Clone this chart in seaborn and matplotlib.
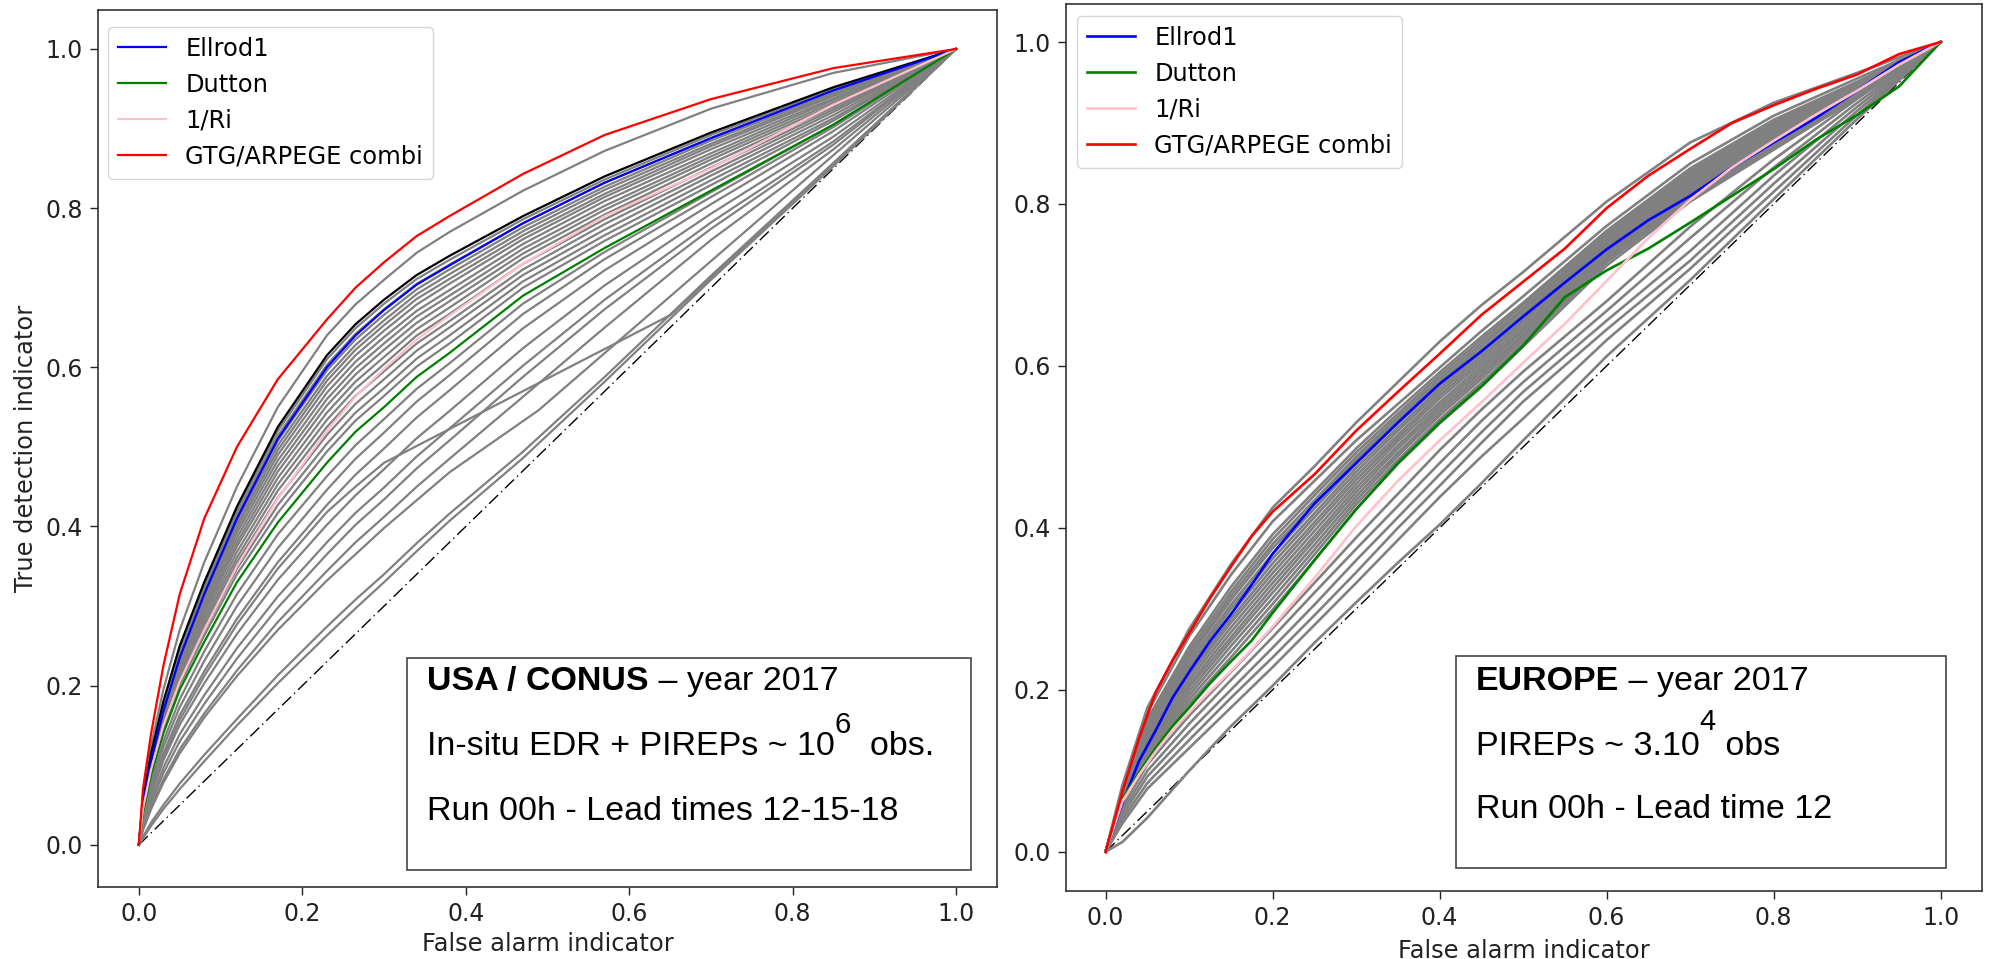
import numpy as np
import pandas as pd
import matplotlib
matplotlib.use("Agg")
import matplotlib.pyplot as plt
import seaborn as sns
from matplotlib.patches import Rectangle
from matplotlib.lines import Line2D

# ---------------- USA / CONUS panel (left) ----------------
USA_X = [0, 0.005, 0.015, 0.03, 0.05, 0.08, 0.12, 0.17, 0.23, 0.265, 0.3, 0.34, 0.38, 0.47, 0.57, 0.7, 0.85, 1.0]
USA_RED = [0, 0.07, 0.14, 0.225, 0.315, 0.41, 0.50, 0.585, 0.66, 0.700, 0.732, 0.765, 0.79, 0.843, 0.892, 0.937, 0.976, 1]
USA_BLACK = [0, 0.055, 0.115, 0.18, 0.25, 0.33, 0.425, 0.525, 0.615, 0.654, 0.685, 0.716, 0.74, 0.79, 0.84, 0.895, 0.952, 1]
USA_BLUE = [0, 0.05, 0.105, 0.168, 0.235, 0.315, 0.41, 0.51, 0.60, 0.640, 0.672, 0.704, 0.728, 0.781, 0.832, 0.888, 0.948, 1]
USA_PINK = [0, 0.045, 0.095, 0.15, 0.205, 0.27, 0.35, 0.435, 0.52, 0.563, 0.598, 0.635, 0.665, 0.73, 0.79, 0.85, 0.93, 1]
USA_GREEN = [0, 0.04, 0.088, 0.14, 0.195, 0.255, 0.33, 0.405, 0.48, 0.519, 0.55, 0.588, 0.618, 0.69, 0.75, 0.822, 0.905, 1]

USA_GREY = [
    [0, 0.062, 0.125, 0.195, 0.270, 0.355, 0.450, 0.550, 0.640, 0.679, 0.710, 0.744, 0.770, 0.822, 0.872, 0.925, 0.970, 1],
    [0, 0.054, 0.114, 0.178, 0.248, 0.327, 0.421, 0.520, 0.610, 0.649, 0.680, 0.711, 0.735, 0.786, 0.836, 0.892, 0.950, 1],
    [0, 0.054, 0.113, 0.176, 0.245, 0.323, 0.416, 0.514, 0.603, 0.642, 0.673, 0.705, 0.729, 0.781, 0.832, 0.888, 0.948, 1],
    [0, 0.053, 0.111, 0.174, 0.242, 0.320, 0.412, 0.508, 0.596, 0.635, 0.666, 0.698, 0.723, 0.776, 0.827, 0.885, 0.945, 1],
    [0, 0.052, 0.110, 0.172, 0.240, 0.316, 0.407, 0.502, 0.589, 0.628, 0.659, 0.692, 0.717, 0.771, 0.823, 0.881, 0.943, 1],
    [0, 0.051, 0.108, 0.170, 0.237, 0.312, 0.402, 0.496, 0.583, 0.622, 0.653, 0.686, 0.711, 0.766, 0.818, 0.878, 0.941, 1],
    [0, 0.051, 0.107, 0.168, 0.234, 0.308, 0.397, 0.490, 0.576, 0.615, 0.646, 0.679, 0.705, 0.761, 0.814, 0.874, 0.938, 1],
    [0, 0.050, 0.106, 0.166, 0.231, 0.304, 0.392, 0.483, 0.568, 0.607, 0.638, 0.671, 0.697, 0.755, 0.809, 0.869, 0.936, 1],
    [0, 0.049, 0.104, 0.164, 0.227, 0.299, 0.386, 0.476, 0.560, 0.599, 0.630, 0.664, 0.690, 0.749, 0.803, 0.865, 0.933, 1],
    [0, 0.048, 0.102, 0.161, 0.224, 0.295, 0.380, 0.469, 0.552, 0.591, 0.622, 0.656, 0.683, 0.743, 0.798, 0.861, 0.930, 1],
    [0, 0.047, 0.101, 0.159, 0.221, 0.290, 0.375, 0.461, 0.543, 0.582, 0.613, 0.648, 0.675, 0.737, 0.792, 0.856, 0.927, 1],
    [0, 0.046, 0.099, 0.156, 0.217, 0.285, 0.368, 0.453, 0.534, 0.573, 0.604, 0.640, 0.667, 0.730, 0.786, 0.851, 0.924, 1],
    [0, 0.045, 0.097, 0.153, 0.213, 0.280, 0.361, 0.445, 0.525, 0.564, 0.595, 0.630, 0.658, 0.723, 0.780, 0.846, 0.921, 1],
    [0, 0.044, 0.095, 0.150, 0.209, 0.275, 0.355, 0.436, 0.515, 0.554, 0.585, 0.621, 0.650, 0.716, 0.773, 0.841, 0.917, 1],
    [0, 0.043, 0.093, 0.147, 0.205, 0.269, 0.347, 0.427, 0.504, 0.543, 0.574, 0.611, 0.640, 0.708, 0.766, 0.835, 0.913, 1],
    [0, 0.042, 0.091, 0.144, 0.201, 0.263, 0.340, 0.417, 0.494, 0.533, 0.564, 0.601, 0.630, 0.700, 0.759, 0.829, 0.910, 1],
    [0, 0.035, 0.080, 0.130, 0.183, 0.243, 0.315, 0.390, 0.463, 0.502, 0.535, 0.573, 0.605, 0.680, 0.745, 0.820, 0.905, 1],
    [0, 0.032, 0.075, 0.123, 0.173, 0.231, 0.300, 0.373, 0.446, 0.485, 0.518, 0.557, 0.590, 0.667, 0.736, 0.814, 0.902, 1],
    [0, 0.030, 0.070, 0.115, 0.163, 0.218, 0.284, 0.355, 0.427, 0.465, 0.498, 0.537, 0.571, 0.649, 0.722, 0.805, 0.897, 1],
    [0, 0.027, 0.064, 0.106, 0.151, 0.203, 0.265, 0.333, 0.402, 0.439, 0.472, 0.511, 0.545, 0.624, 0.703, 0.793, 0.890, 1],
    [0, 0.025, 0.058, 0.097, 0.139, 0.188, 0.247, 0.312, 0.380, 0.417, 0.449, 0.488, 0.523, 0.602, 0.685, 0.782, 0.884, 1],
    [0, 0.022, 0.053, 0.090, 0.130, 0.177, 0.234, 0.298, 0.365, 0.402, 0.434, 0.473, 0.508, 0.588, 0.673, 0.774, 0.880, 1],
    [0, 0.020, 0.048, 0.082, 0.120, 0.165, 0.219, 0.280, 0.344, 0.380, 0.412, 0.450, 0.485, 0.563, 0.650, 0.760, 0.874, 1],
    [0, 0.010, 0.028, 0.050, 0.077, 0.113, 0.158, 0.213, 0.274, 0.308, 0.340, 0.379, 0.416, 0.494, 0.588, 0.715, 0.857, 1],
    [0, 0.008, 0.024, 0.045, 0.070, 0.105, 0.150, 0.203, 0.263, 0.297, 0.330, 0.369, 0.407, 0.486, 0.582, 0.710, 0.853, 1],
]
USA_KINK_X = [0, 0.005, 0.015, 0.03, 0.05, 0.08, 0.12, 0.17, 0.23, 0.265, 0.3, 0.651, 1.0]
USA_KINK_Y = [0, 0.028, 0.066, 0.11, 0.157, 0.212, 0.277, 0.347, 0.418, 0.450, 0.48, 0.666, 1.0]
USA_STEEP_X = [0, 0.005, 0.015, 0.03, 0.05, 0.08, 0.12, 0.17, 0.23, 0.3, 0.38, 0.489, 1.0]
USA_STEEP_Y = [0, 0.018, 0.045, 0.078, 0.115, 0.16, 0.212, 0.27, 0.332, 0.398, 0.468, 0.546, 1.0]

# ---------------- EUROPE panel (right) ----------------
EU_X_FINE = [0, 0.02, 0.04, 0.06, 0.08, 0.1, 0.125, 0.15, 0.175, 0.2, 0.25, 0.3, 0.35, 0.4,
             0.45, 0.5, 0.55, 0.6, 0.65, 0.7, 0.75, 0.8, 0.85, 0.9, 0.95, 1.0]
EU_RED = [0, 0.074, 0.14, 0.197, 0.236, 0.27, 0.313, 0.352, 0.39, 0.42, 0.466, 0.52, 0.568,
          0.615, 0.663, 0.704, 0.745, 0.795, 0.835, 0.868, 0.90, 0.922, 0.942, 0.96, 0.985, 1.0]
EU_BLUE = [0, 0.06, 0.112, 0.15, 0.19, 0.222, 0.26, 0.293, 0.33, 0.368, 0.43, 0.48, 0.53,
           0.578, 0.618, 0.661, 0.703, 0.744, 0.78, 0.81, 0.845, 0.876, 0.906, 0.94, 0.975, 1.0]
EU_GREEN = [0, 0.065, 0.098, 0.128, 0.155, 0.178, 0.208, 0.235, 0.261, 0.295, 0.36, 0.423, 0.48,
            0.53, 0.575, 0.625, 0.685, 0.718, 0.745, 0.777, 0.81, 0.843, 0.879, 0.91, 0.945, 1.0]
EU_PINK = [0, 0.062, 0.095, 0.124, 0.15, 0.172, 0.198, 0.223, 0.25, 0.278, 0.338, 0.402, 0.458,
           0.508, 0.555, 0.604, 0.652, 0.705, 0.758, 0.805, 0.845, 0.878, 0.91, 0.94, 0.972, 1.0]

EU_X_GREY = [0, 0.02, 0.05, 0.1, 0.15, 0.2, 0.25, 0.3, 0.35, 0.4, 0.45, 0.5, 0.6, 0.7, 0.8, 0.9, 1.0]
EU_GREY = [
    [0, 0.082, 0.178, 0.275, 0.355, 0.425, 0.476, 0.530, 0.580, 0.630, 0.675, 0.716, 0.803, 0.876, 0.925, 0.962, 1],
    [0, 0.078, 0.172, 0.266, 0.342, 0.408, 0.458, 0.508, 0.553, 0.598, 0.643, 0.686, 0.773, 0.850, 0.909, 0.955, 1],
    [0, 0.075, 0.164, 0.253, 0.327, 0.392, 0.445, 0.498, 0.546, 0.592, 0.636, 0.678, 0.767, 0.844, 0.904, 0.951, 1],
    [0, 0.074, 0.160, 0.248, 0.321, 0.386, 0.440, 0.493, 0.541, 0.588, 0.632, 0.675, 0.764, 0.841, 0.901, 0.950, 1],
    [0, 0.073, 0.158, 0.243, 0.316, 0.380, 0.434, 0.488, 0.537, 0.584, 0.628, 0.671, 0.761, 0.838, 0.899, 0.949, 1],
    [0, 0.072, 0.155, 0.240, 0.311, 0.375, 0.429, 0.484, 0.533, 0.580, 0.624, 0.668, 0.759, 0.836, 0.897, 0.948, 1],
    [0, 0.071, 0.152, 0.235, 0.305, 0.368, 0.424, 0.479, 0.529, 0.576, 0.620, 0.664, 0.756, 0.833, 0.895, 0.946, 1],
    [0, 0.070, 0.149, 0.230, 0.300, 0.362, 0.418, 0.474, 0.524, 0.572, 0.616, 0.661, 0.753, 0.831, 0.892, 0.945, 1],
    [0, 0.069, 0.146, 0.226, 0.294, 0.356, 0.413, 0.469, 0.520, 0.568, 0.612, 0.657, 0.751, 0.828, 0.890, 0.944, 1],
    [0, 0.068, 0.143, 0.221, 0.288, 0.350, 0.407, 0.464, 0.515, 0.564, 0.608, 0.654, 0.748, 0.825, 0.887, 0.942, 1],
    [0, 0.068, 0.140, 0.217, 0.283, 0.344, 0.402, 0.459, 0.511, 0.560, 0.604, 0.650, 0.745, 0.823, 0.885, 0.941, 1],
    [0, 0.067, 0.137, 0.212, 0.277, 0.338, 0.396, 0.454, 0.507, 0.555, 0.600, 0.646, 0.742, 0.820, 0.883, 0.940, 1],
    [0, 0.066, 0.134, 0.207, 0.271, 0.332, 0.390, 0.449, 0.502, 0.551, 0.596, 0.643, 0.739, 0.817, 0.880, 0.938, 1],
    [0, 0.065, 0.131, 0.203, 0.265, 0.326, 0.385, 0.444, 0.498, 0.547, 0.592, 0.639, 0.737, 0.814, 0.878, 0.937, 1],
    [0, 0.064, 0.128, 0.198, 0.260, 0.320, 0.379, 0.439, 0.493, 0.543, 0.588, 0.636, 0.734, 0.812, 0.875, 0.936, 1],
    [0, 0.063, 0.125, 0.193, 0.254, 0.313, 0.373, 0.434, 0.489, 0.539, 0.584, 0.632, 0.731, 0.809, 0.873, 0.934, 1],
    [0, 0.062, 0.122, 0.188, 0.247, 0.306, 0.367, 0.429, 0.484, 0.534, 0.579, 0.628, 0.728, 0.806, 0.870, 0.933, 1],
    [0, 0.061, 0.118, 0.183, 0.240, 0.299, 0.360, 0.423, 0.479, 0.529, 0.574, 0.624, 0.724, 0.803, 0.867, 0.931, 1],
    [0, 0.055, 0.108, 0.168, 0.222, 0.276, 0.332, 0.388, 0.442, 0.496, 0.546, 0.593, 0.680, 0.772, 0.855, 0.930, 1],
    [0, 0.050, 0.100, 0.158, 0.212, 0.265, 0.320, 0.374, 0.427, 0.480, 0.532, 0.580, 0.668, 0.758, 0.845, 0.925, 1],
    [0, 0.045, 0.093, 0.148, 0.200, 0.252, 0.305, 0.360, 0.413, 0.466, 0.518, 0.568, 0.656, 0.742, 0.835, 0.920, 1],
    [0, 0.040, 0.085, 0.138, 0.190, 0.240, 0.292, 0.345, 0.400, 0.452, 0.505, 0.556, 0.645, 0.730, 0.825, 0.915, 1],
    [0, 0.035, 0.078, 0.128, 0.178, 0.228, 0.280, 0.332, 0.385, 0.438, 0.488, 0.535, 0.632, 0.720, 0.815, 0.910, 1],
    [0, 0.012, 0.042, 0.100, 0.155, 0.205, 0.258, 0.308, 0.357, 0.404, 0.455, 0.508, 0.612, 0.706, 0.806, 0.905, 1],
]

LEGEND_LABELS = ["Ellrod1", "Dutton", "1/Ri", "GTG/ARPEGE combi"]
LEGEND_COLORS = ["blue", "green", "pink", "red"]
TICKS = [0.0, 0.2, 0.4, 0.6, 0.8, 1.0]
XLABEL = "False alarm indicator"
YLABEL = "True detection indicator"

# ---------------- figure ----------------
W, H = 1990, 959
fig = plt.figure(figsize=(W / 100, H / 100), dpi=100)


def fx(px):
    return px / W


def fy(py):
    return 1 - py / H


axL = fig.add_axes([fx(98), fy(887), (997 - 98) / W, (887 - 10) / H])
axR = fig.add_axes([fx(1066), fy(891), (1982 - 1066) / W, (891 - 4) / H])
axR.set_zorder(0)
axL.set_zorder(2)
fig.add_artist(Rectangle((0, 0), fx(1001), 1, transform=fig.transFigure,
                         facecolor="white", edgecolor="none", zorder=1))


def grey_frame(xgrid, curves):
    rows = []
    for i, ys in enumerate(curves):
        for x, y in zip(xgrid, ys):
            rows.append({"curve": i, "x": x, "y": y})
    return pd.DataFrame(rows)


def draw_panel(ax, xg, grey, extra, xf, colored, lw, black=None):
    ax.plot([0, 1], [0, 1], color="black", lw=1.0, linestyle=(0, (9, 3, 1, 3)), zorder=1)
    sns.lineplot(data=grey_frame(xg, grey), x="x", y="y", units="curve", estimator=None,
                 sort=False, color="grey", linewidth=lw, ax=ax, legend=False)
    for ex, ey in extra:
        sns.lineplot(x=ex, y=ey, sort=False, estimator=None, color="grey", linewidth=lw, ax=ax)
    if black is not None:
        sns.lineplot(x=xf, y=black, sort=False, estimator=None, color="black", linewidth=lw, ax=ax)
    for ys, c in zip(colored, LEGEND_COLORS):
        sns.lineplot(x=xf, y=ys, sort=False, estimator=None, color=c, linewidth=lw, ax=ax)
    ax.set_xticks(TICKS)
    ax.set_yticks(TICKS)
    ax.set_xticklabels([f"{t:.1f}" for t in TICKS])
    ax.set_yticklabels([f"{t:.1f}" for t in TICKS])
    ax.tick_params(labelsize=17, length=6, width=1, pad=5, colors="#222222")
    for s in ax.spines.values():
        s.set_color("#333333")
        s.set_linewidth(1.2)


draw_panel(axL, USA_X, USA_GREY,
           [(USA_KINK_X, USA_KINK_Y), (USA_STEEP_X, USA_STEEP_Y)],
           USA_X, [USA_BLUE, USA_GREEN, USA_PINK, USA_RED], 1.6, black=USA_BLACK)
draw_panel(axR, EU_X_GREY, EU_GREY, [], EU_X_FINE,
           [EU_BLUE, EU_GREEN, EU_PINK, EU_RED], 1.9)

axL.set_xlim(-0.05, 1.05)
axL.set_ylim(-0.053, 1.049)
axR.set_xlim(-0.0475, 1.0495)
axR.set_ylim(-0.0485, 1.047)

axL.set_xlabel(XLABEL, fontsize=17.4, labelpad=4, color="#222222")
axL.set_ylabel(YLABEL, fontsize=17.4, labelpad=5, color="#222222")
axR.set_xlabel(XLABEL, fontsize=17.4, labelpad=6, color="#222222")
axR.set_ylabel(YLABEL, fontsize=17.4, labelpad=10, color="#222222")

for ax, (lx, ly), lw in [(axL, (108, 27), 1.6), (axR, (1077, 16), 1.9)]:
    handles = [Line2D([], [], color=c, lw=lw) for c in LEGEND_COLORS]
    ax.legend(handles, LEGEND_LABELS, loc="upper left", bbox_to_anchor=(fx(lx), fy(ly)),
              bbox_transform=fig.transFigure, borderaxespad=0, fontsize=17.4)

# ---------------- annotation boxes ----------------
renderer = fig.canvas.get_renderer()
FS = 24.5


def text_run(x_px, base_px, segments):
    x = x_px
    for txt, weight, rise, size in segments:
        t = fig.text(fx(x), fy(base_px - rise), txt, fontsize=size, fontweight=weight,
                     family="Liberation Sans", va="baseline", ha="left", color="black", zorder=6)
        bb = t.get_window_extent(renderer)
        x = bb.x1


fig.add_artist(Rectangle((fx(407), fy(870)), (971 - 407) / W, (870 - 658) / H,
                         transform=fig.transFigure, fill=False, edgecolor="#444444", lw=1.2, zorder=5))
text_run(427, 690, [("USA / CONUS", "bold", 0, FS), (" \u2013 year 2017", "normal", 0, FS)])
text_run(427, 755, [("In-situ EDR + PIREPs ~ 10", "normal", 0, FS), ("6", "normal", 22, 21),
                    ("  obs.", "normal", 0, FS)])
text_run(427, 820, [("Run 00h - Lead times 12-15-18", "normal", 0, FS)])

fig.add_artist(Rectangle((fx(1456), fy(868)), (1946 - 1456) / W, (868 - 656) / H,
                         transform=fig.transFigure, fill=False, edgecolor="#444444", lw=1.2, zorder=5))
text_run(1476, 690, [("EUROPE", "bold", 0, FS), (" \u2013 year 2017", "normal", 0, FS)])
text_run(1476, 755, [("PIREPs ~ 3.10", "normal", 0, FS), ("4", "normal", 25, 21),
                     (" obs", "normal", 0, FS)])
text_run(1476, 818, [("Run 00h - Lead time 12", "normal", 0, FS)])

fig.savefig("out.png", dpi=100)
